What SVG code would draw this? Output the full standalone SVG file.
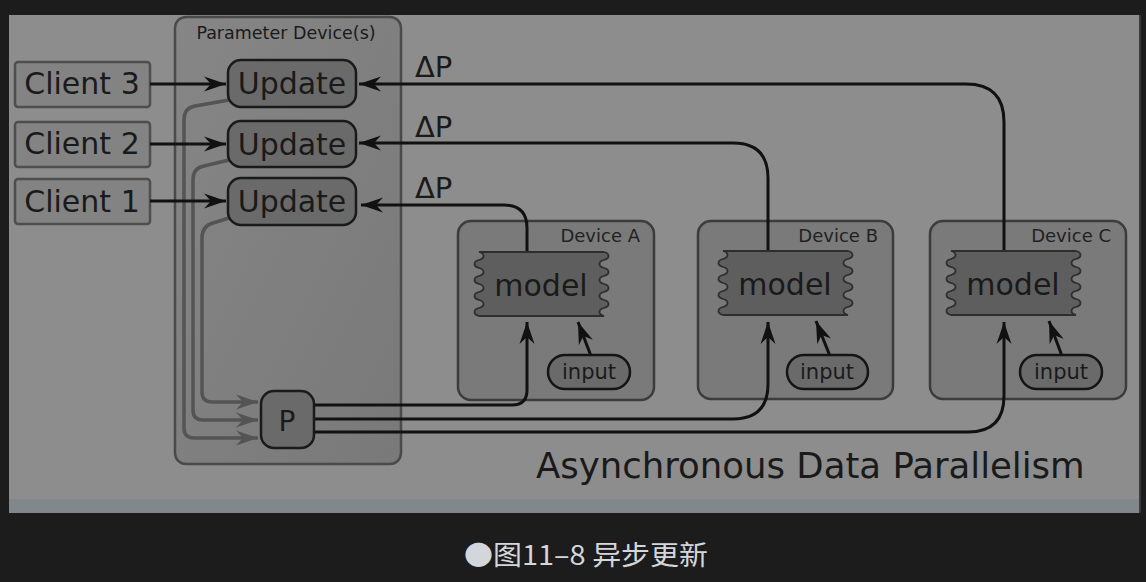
<svg xmlns="http://www.w3.org/2000/svg" width="1146" height="582" viewBox="0 0 1146 582">
<style>
text{font-family:"DejaVu Sans","Liberation Sans",sans-serif;fill:#1a1a1a}
.client rect{fill:#838383;stroke:#4e4e4e;stroke-width:2.5}
.upd rect{fill:#6a6a6a;stroke:#1a1a1a;stroke-width:2.5}
.dev{fill:#7a7a7a;stroke:#3c3c3c;stroke-width:2.5}
.model{fill:#5e5e5e;stroke:#2e2e2e;stroke-width:1.8}
.inp{fill:#6a6a6a;stroke:#141414;stroke-width:2.5}
.blk{fill:none;stroke:#111;stroke-width:3}
.gry{fill:none;stroke:#545454;stroke-width:3.5}
.big{font-size:30px}
.lbl{font-size:18px;fill:#222}
</style>
<defs>
<marker id="ah" markerUnits="userSpaceOnUse" viewBox="-22 -8 23 16" refX="0" refY="0" markerWidth="23" markerHeight="16" orient="auto">
<path d="M0,0 L-22,-7.5 L-15,0 L-22,7.5 Z" fill="#111"/>
</marker>
<marker id="ahg" markerUnits="userSpaceOnUse" viewBox="-22 -8 23 16" refX="0" refY="0" markerWidth="23" markerHeight="16" orient="auto">
<path d="M0,0 L-22,-7.5 L-15,0 L-22,7.5 Z" fill="#545454"/>
</marker>
<linearGradient id="pg" x1="0" y1="0" x2="1" y2="1">
<stop offset="0" stop-color="#868686"/>
<stop offset="1" stop-color="#797979"/>
</linearGradient>
<path id="ms" d="M2,0 H127 c6,1.5 6,6.5 0,8 c-6,1.5 -6,6.5 0,8 c6,1.5 6,6.5 0,8 c-6,1.5 -6,6.5 0,8 c6,1.5 6,6.5 0,8 c-6,1.5 -6,6.5 0,8 c6,1.5 6,6.5 0,8 c-6,1.5 -6,6.5 0,8 H2 c-6,-1.5 -6,-6.5 0,-8 c6,-1.5 6,-6.5 0,-8 c-6,-1.5 -6,-6.5 0,-8 c6,-1.5 6,-6.5 0,-8 c-6,-1.5 -6,-6.5 0,-8 c6,-1.5 6,-6.5 0,-8 c-6,-1.5 -6,-6.5 0,-8 c6,-1.5 6,-6.5 0,-8 Z"/>
</defs>
<rect x="0" y="0" width="1146" height="582" fill="#1c1c1c"/>
<rect x="9" y="15" width="1130" height="498" fill="#8d8d8d"/>
<rect x="9" y="499" width="1130" height="14" fill="#80888b"/>
<rect x="1139" y="15" width="2" height="498" fill="#3a3a3a"/>

<g id="param">
<rect x="175" y="17" width="226" height="447" rx="11" fill="url(#pg)" stroke="#4a4a4a" stroke-width="2.5"/>
<text x="286" y="39" text-anchor="middle" font-size="17.5" fill="#262626">Parameter Device(s)</text>
</g>

<g id="client3" class="client"><rect x="15" y="62" width="135" height="45" rx="3"/><text class="big" x="82" y="94" text-anchor="middle">Client 3</text></g>
<g id="client2" class="client"><rect x="15" y="122" width="135" height="45" rx="3"/><text class="big" x="82" y="154" text-anchor="middle">Client 2</text></g>
<g id="client1" class="client"><rect x="15" y="179" width="135" height="45" rx="3"/><text class="big" x="82" y="212" text-anchor="middle">Client 1</text></g>

<g id="devA"><rect class="dev" x="458" y="221" width="196" height="179" rx="13"/><text class="lbl" x="640" y="242" text-anchor="end">Device A</text></g>
<g id="devB"><rect class="dev" x="698" y="221" width="195" height="178" rx="13"/><text class="lbl" x="878" y="242" text-anchor="end">Device B</text></g>
<g id="devC"><rect class="dev" x="930" y="221" width="196" height="178" rx="13"/><text class="lbl" x="1111" y="242" text-anchor="end">Device C</text></g>

<g id="connectors">
<path class="gry" d="M229,100 L195,106 Q184,108 184,120 V428 Q184,438 194,438 H258" marker-end="url(#ahg)"/>
<path class="gry" d="M229,160 L204,166 Q193,168 193,180 V410 Q193,420 203,420 H258" marker-end="url(#ahg)"/>
<path class="gry" d="M229,218 L213,223 Q202,226 202,238 V392 Q202,402 212,402 H258" marker-end="url(#ahg)"/>
<path class="blk" d="M150,84 H226" marker-end="url(#ah)"/>
<path class="blk" d="M150,144 H226" marker-end="url(#ah)"/>
<path class="blk" d="M150,201 H226" marker-end="url(#ah)"/>
<path class="blk" d="M1004,250 V122 Q1004,84 966,84 H359" marker-end="url(#ah)"/>
<path class="blk" d="M768,250 V178 Q768,143 733,143 H359" marker-end="url(#ah)"/>
<path class="blk" d="M527,252 V228 Q527,205 504,205 H361" marker-end="url(#ah)"/>
<path class="blk" d="M314,405 H512 Q527,405 527,390 V322" marker-end="url(#ah)"/>
<path class="blk" d="M314,419 H733 Q768,419 768,384 V322" marker-end="url(#ah)"/>
<path class="blk" d="M314,432 H968 Q1004,432 1004,396 V322" marker-end="url(#ah)"/>
<path class="blk" d="M591,356 L578,322" marker-end="url(#ah)"/>
<path class="blk" d="M830,356 L816,321" marker-end="url(#ah)"/>
<path class="blk" d="M1062,356 L1049,321" marker-end="url(#ah)"/>
</g>

<g id="update3" class="upd"><rect x="228" y="60" width="128" height="47" rx="13"/><text class="big" x="292" y="94" text-anchor="middle">Update</text></g>
<g id="update2" class="upd"><rect x="228" y="121" width="128" height="46" rx="13"/><text class="big" x="292" y="155" text-anchor="middle">Update</text></g>
<g id="update1" class="upd"><rect x="228" y="178" width="128" height="47" rx="13"/><text class="big" x="292" y="212" text-anchor="middle">Update</text></g>

<g id="P"><rect x="261" y="391" width="53" height="57" rx="13" fill="#6a6a6a" stroke="#1a1a1a" stroke-width="2.5"/><text x="287" y="431" text-anchor="middle" font-size="28">P</text></g>

<g id="dp">
<text x="415" y="77" font-size="29">ΔP</text>
<text x="415" y="137" font-size="29">ΔP</text>
<text x="415" y="198" font-size="29">ΔP</text>
</g>

<g id="modelA"><use href="#ms" class="model" transform="translate(477,252)"/><text class="big" x="541" y="296" text-anchor="middle">model</text></g>
<g id="modelB"><use href="#ms" class="model" transform="translate(721,251)"/><text class="big" x="785" y="295" text-anchor="middle">model</text></g>
<g id="modelC"><use href="#ms" class="model" transform="translate(949,251)"/><text class="big" x="1013" y="295" text-anchor="middle">model</text></g>

<g id="inputA"><rect class="inp" x="548" y="355" width="82" height="34" rx="17"/><text x="589" y="379" text-anchor="middle" font-size="21">input</text></g>
<g id="inputB"><rect class="inp" x="787" y="355" width="81" height="34" rx="17"/><text x="827" y="379" text-anchor="middle" font-size="21">input</text></g>
<g id="inputC"><rect class="inp" x="1020" y="355" width="82" height="34" rx="17"/><text x="1061" y="379" text-anchor="middle" font-size="21">input</text></g>

<g id="title"><text x="536" y="478" font-size="35.5" fill="#1c1c1c">Asynchronous Data Parallelism</text></g>

<g id="caption"><text x="464" y="565" font-size="27" textLength="244" lengthAdjust="spacingAndGlyphs" style="font-family:'Noto Sans CJK SC','Noto Sans',sans-serif;fill:#d3d7db">●图11–8 异步更新</text></g>
</svg>
